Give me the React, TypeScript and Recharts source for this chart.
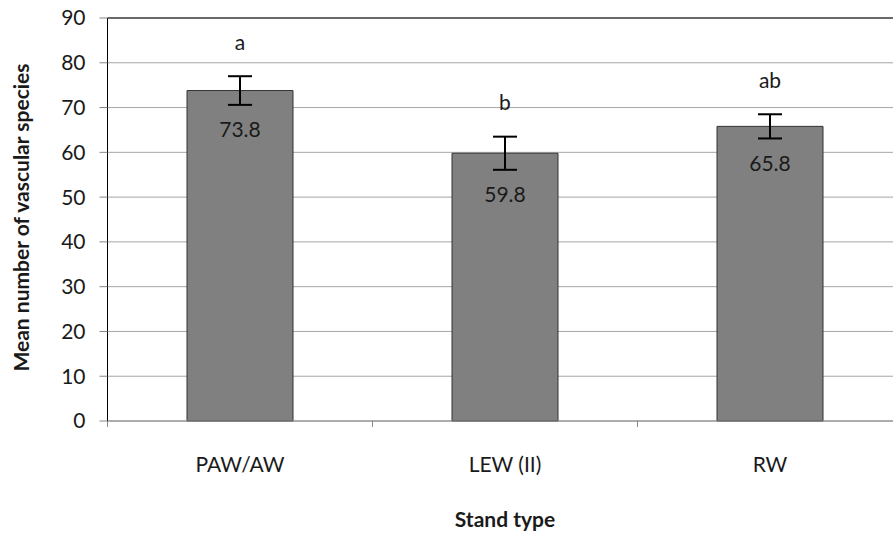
import { BarChart, Bar, XAxis, YAxis, CartesianGrid, ErrorBar, LabelList, ReferenceLine } from "recharts";

const standTypes = ["PAW/AW", "LEW (II)", "RW"];
const meanSpecies = [73.8, 59.8, 65.8];
const standardErrors = [3.2, 3.7, 2.7];
const groupLetters = ["a", "b", "ab"];
const yTicks = [0, 10, 20, 30, 40, 50, 60, 70, 80, 90];

const data = standTypes.map((stand, i) => ({
  stand,
  mean: meanSpecies[i],
  se: standardErrors[i],
  letter: groupLetters[i]
}));

const W = 910;
const H = 533;
const TOP = 18;
const AXIS_H = 112;
const LEFT = 107.5;
const RIGHT = 7.5;
const plotH = H - TOP - AXIS_H;
const plotW = W - LEFT - RIGHT;
const band = plotW / standTypes.length;
const pxPerUnit = plotH / 90;
const FONT = "Lato, 'Open Sans', sans-serif";

const XTick = (props: any) => {
  const { x, y, payload, index } = props;
  const edge = x - band / 2;
  return (
    <g>
      <line x1={edge} y1={y} x2={edge} y2={y + 6} stroke="#868686" />
      {index === standTypes.length - 1 && (
        <line x1={x + band / 2} y1={y} x2={x + band / 2} y2={y + 6} stroke="#868686" />
      )}
      <text x={x} y={y + 42} textAnchor="middle" dominantBaseline="central" fontSize={21} fill="#1a1a1a" fontFamily={FONT}>
        {payload.value}
      </text>
    </g>
  );
};

const valueLabel = (props: any) => {
  const { x, y, width, index, value } = props;
  const errBottom = y + standardErrors[index] * pxPerUnit;
  return (
    <text x={x + width / 2} y={errBottom + 24} textAnchor="middle" dominantBaseline="central" fontSize={21} fill="#1a1a1a" fontFamily={FONT}>
      {value}
    </text>
  );
};

const letterLabel = (props: any) => {
  const { x, y, width, index, value } = props;
  const errTop = y - standardErrors[index] * pxPerUnit;
  return (
    <text x={x + width / 2} y={errTop - 35} textAnchor="middle" dominantBaseline="central" fontSize={21} fill="#1a1a1a" fontFamily={FONT}>
      {value}
    </text>
  );
};

const YTitle = () => (
  <text
    x={20}
    y={TOP + plotH / 2 - 2}
    transform={`rotate(-90, 20, ${TOP + plotH / 2 - 2})`}
    textAnchor="middle"
    dominantBaseline="central"
    fontSize={21}
    fontWeight={700}
    fill="#1a1a1a"
    fontFamily={FONT}
  >
    Mean number of vascular species
  </text>
);

const XTitle = () => (
  <text
    x={LEFT + plotW / 2}
    y={518}
    textAnchor="middle"
    dominantBaseline="central"
    fontSize={21}
    fontWeight={700}
    fill="#1a1a1a"
    fontFamily={FONT}
  >
    Stand type
  </text>
);

export default function App() {
  return (
    <div style={{ position: "absolute", left: 0, top: 0, width: 893, height: 533, overflow: "hidden", background: "#fff" }}>
      <BarChart
        width={W}
        height={H}
        data={data}
        margin={{ top: TOP, right: RIGHT, bottom: 0, left: 0 }}
        barCategoryGap="30%"
      >
        <CartesianGrid vertical={false} stroke="#a6a6a6" />
        <XAxis
          dataKey="stand"
          height={AXIS_H}
          tickSize={0}
          tickMargin={0}
          tick={<XTick />}
          axisLine={{ stroke: "#868686" }}
          tickLine={false}
          interval={0}
          label={<XTitle />}
        />
        <YAxis
          width={LEFT}
          domain={[0, 90]}
          ticks={yTicks}
          interval={0}
          tickSize={8}
          tickMargin={14}
          tickLine={{ stroke: "#868686" }}
          axisLine={{ stroke: "#000" }}
          tick={{ fontSize: 21, fill: "#1a1a1a", fontFamily: FONT }}
          label={<YTitle />}
        />
        <ReferenceLine y={90} stroke="#000" />
        <Bar dataKey="mean" fill="#808080" stroke="#333" strokeWidth={1} isAnimationActive={false}>
          <ErrorBar dataKey="se" direction="y" width={12} strokeWidth={2} stroke="#000" />
          <LabelList dataKey="mean" content={valueLabel} />
          <LabelList dataKey="letter" content={letterLabel} />
        </Bar>
      </BarChart>
    </div>
  );
}
